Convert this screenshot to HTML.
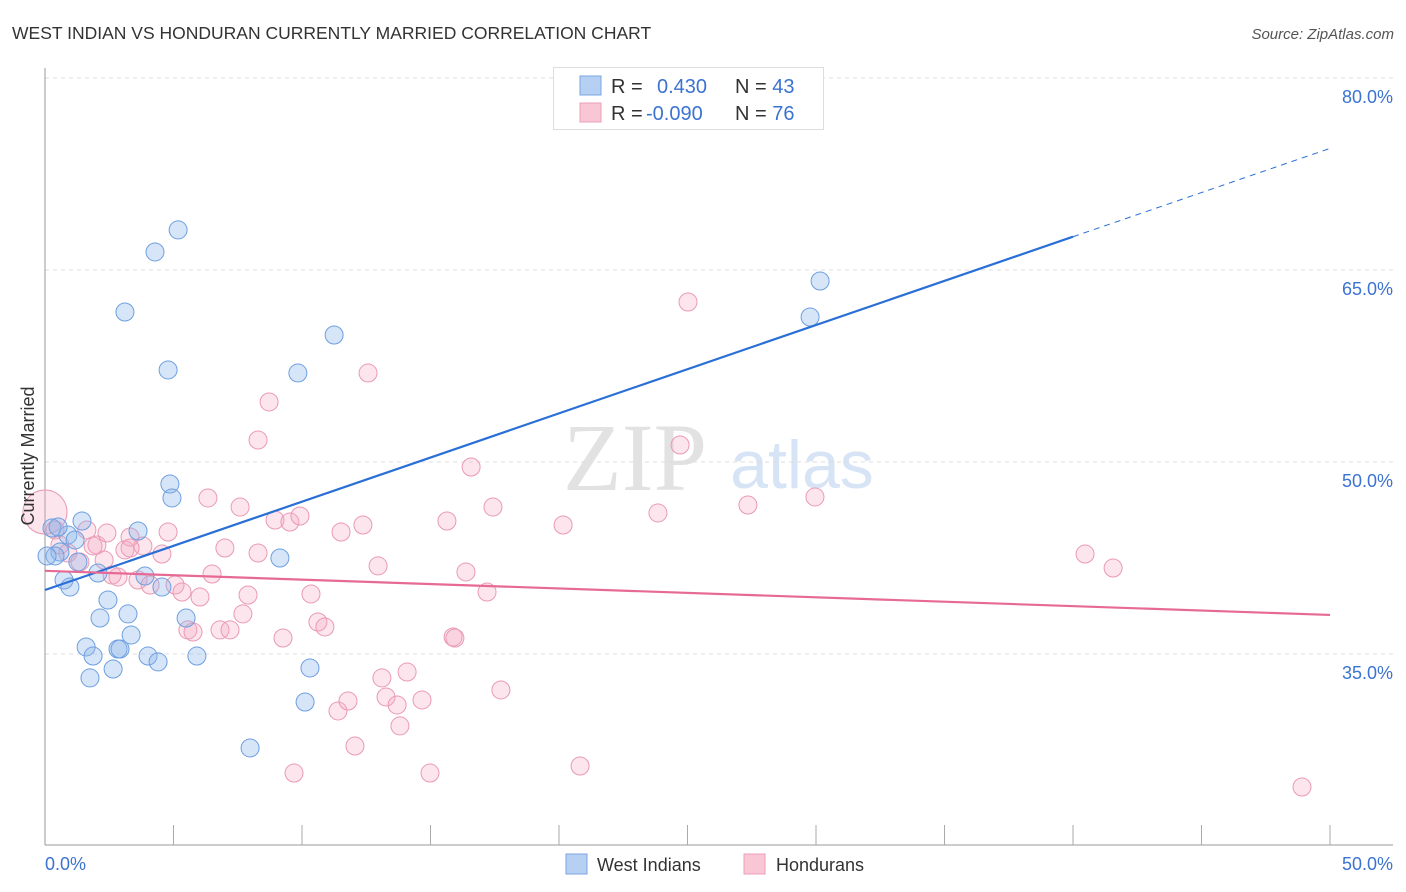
<!DOCTYPE html>
<html><head><meta charset="utf-8"><style>
body{margin:0;background:#fff;font-family:"Liberation Sans",sans-serif;}
svg{display:block}
</style></head><body>
<svg id="chart" width="1406" height="892" xmlns="http://www.w3.org/2000/svg">
<text x="12" y="39" font-size="17.5" fill="#333">WEST INDIAN VS HONDURAN CURRENTLY MARRIED CORRELATION CHART</text>
<text x="1394" y="39" font-size="15" fill="#555" font-style="italic" text-anchor="end">Source: ZipAtlas.com</text>
<text x="635" y="490" font-size="96" fill="#e2e2e2" font-family="Liberation Serif,serif" text-anchor="middle">ZIP</text>
<text x="802" y="488" font-size="68" fill="#d6e4f5" text-anchor="middle">atlas</text>
<g id="grid"></g>
<g id="axes"></g>
<g id="marks"></g>
<text transform="translate(34,456) rotate(-90)" font-size="18" fill="#333" text-anchor="middle">Currently Married</text>
<g>
<rect x="553.5" y="67.5" width="270" height="62" fill="#fff" stroke="#ddd"/>
<rect x="580" y="76" width="21" height="19" fill="#b5d0f2" stroke="#7aa6e0"/>
<rect x="580" y="103" width="21" height="19" fill="#f8c6d5" stroke="#eba0b7"/>
<text x="611" y="93" font-size="20" fill="#333">R = <tspan x="657" fill="#3b73d0">0.430</tspan><tspan x="735" fill="#333">N = </tspan><tspan fill="#3b73d0">43</tspan></text>
<text x="611" y="120" font-size="20" fill="#333">R = <tspan x="646" fill="#3b73d0">-0.090</tspan><tspan x="735" fill="#333">N = </tspan><tspan fill="#3b73d0">76</tspan></text>
</g>
<g>
<rect x="566" y="854" width="21" height="20" fill="#b5d0f2" stroke="#7aa6e0"/>
<text x="597" y="871" font-size="18" fill="#333">West Indians</text>
<rect x="744" y="854" width="21" height="20" fill="#f8c6d5" stroke="#eba0b7"/>
<text x="776" y="871" font-size="18" fill="#333">Hondurans</text>
</g>
</svg>
<script>
const yTicks=[80,65,50,35];
const xTickLabels=["0.0%","50.0%"];
const blueX=[0.27,0.58,0.39,0.74,0.97,1.44,0.89,1.17,1.28,2.06,2.14,2.45,1.60,1.87,1.75,2.65,2.84,2.92,3.23,3.35,3.62,3.89,4.01,4.40,4.55,4.86,4.94,5.49,5.91,3.11,4.28,5.18,4.79,9.14,9.84,11.25,10.31,10.12,7.98,29.77,30.16,0.51,0.08];
const blueY=[44.84,42.97,42.66,40.78,40.23,45.39,44.30,43.91,42.19,41.33,37.81,39.22,35.55,34.84,33.13,33.83,35.39,35.39,38.13,36.48,44.61,41.09,34.84,34.38,40.23,48.28,47.19,37.81,34.84,61.72,66.41,68.13,57.19,42.50,56.95,59.92,33.91,31.25,27.66,61.33,64.14,44.92,42.66];
const pinkX=[0,0.39,0.58,0.89,1.36,1.63,1.87,2.02,2.30,2.41,2.61,2.84,3.11,3.31,3.62,3.81,4.09,4.55,4.79,5.06,5.33,5.56,5.76,6.03,6.34,6.50,6.81,7.00,7.20,7.59,7.70,7.90,8.29,8.29,8.72,8.95,9.26,9.53,9.69,9.92,10.35,10.62,10.89,11.40,11.52,11.79,12.06,12.37,12.57,12.96,13.11,13.27,13.70,13.81,14.09,14.67,14.98,15.64,15.88,15.95,16.38,16.58,17.20,17.43,17.74,20.16,20.82,23.85,24.71,25.02,27.35,29.96,40.47,41.56,48.91,3.31];
const pinkY=[46.09,44.69,43.52,42.89,42.19,44.69,43.44,43.52,42.34,44.45,41.17,41.02,43.13,44.14,40.78,43.44,40.39,42.81,44.53,40.39,39.84,36.88,36.72,39.45,47.19,41.25,36.88,43.28,36.88,46.48,38.13,39.61,42.89,51.72,54.69,45.47,36.25,45.31,25.70,45.78,39.69,37.50,37.11,30.55,44.53,31.33,27.81,45.08,56.95,41.88,33.13,31.64,31.02,29.38,33.59,31.41,25.70,45.39,36.33,36.25,41.41,49.61,39.84,46.48,32.19,45.08,26.25,46.02,51.33,62.50,46.64,47.27,42.81,41.72,24.61,43.28];
const blueTrend=[40.0,74.5];
const pinkTrend=[41.5,38.05];
const X0=45,X1=1330,Y80=78,PXPER=12.8;
const sx=v=>X0+(X1-X0)*v/50;
const sy=v=>Y80+(80-v)*PXPER;
const NS="http://www.w3.org/2000/svg";
function mk(tag,attrs,parent){const e=document.createElementNS(NS,tag);for(const k in attrs)e.setAttribute(k,attrs[k]);parent.appendChild(e);return e;}
const grid=document.getElementById('grid'),axes=document.getElementById('axes'),marks=document.getElementById('marks');
yTicks.forEach(t=>{
 const l=mk('line',{x1:45,x2:1393,y1:sy(t),y2:sy(t),stroke:'#ddd','stroke-dasharray':'4,4'},grid);
 
 
 const tx=mk('text',{x:1393,y:sy(t)+25,'font-size':18,fill:'#3b73d0','text-anchor':'end'},axes);
 tx.textContent=t.toFixed(1)+'%';
 
 
});
const ya=mk('line',{x1:45,x2:45,y1:68,y2:845,stroke:'#999'},axes);


const xa=mk('line',{x1:45,x2:1393,y1:845,y2:845,stroke:'#999'},axes);


for(let i=1;i<=10;i++){
 const tk=mk('line',{x1:sx(i*5),x2:sx(i*5),y1:825,y2:845,stroke:'#aaa'},axes);
 
 
}
xTickLabels.forEach((s,i)=>{
 const tx=mk('text',{x:i?1393:45,y:870,'font-size':18,fill:'#3b73d0','text-anchor':i?'end':'start'},axes);
 tx.textContent=s;
 
 
});
pinkX.forEach((x,i)=>{
 const c=mk('circle',{cx:sx(x),cy:sy(pinkY[i]),r:i===0?22:9,fill:'rgba(244,170,195,0.3)',stroke:'#ea9ab3','stroke-width':1},marks);
 
 
});
blueX.forEach((x,i)=>{
 const c=mk('circle',{cx:sx(x),cy:sy(blueY[i]),r:9,fill:'rgba(140,180,235,0.35)',stroke:'#6d9fe0','stroke-width':1},marks);
 
 
});
const bAt=x=>blueTrend[0]+(blueTrend[1]-blueTrend[0])*x/50;
const bl=mk('line',{x1:sx(0),y1:sy(bAt(0)),x2:sx(40),y2:sy(bAt(40)),stroke:'#2a6fd6','stroke-width':2.2},marks);


const bd=mk('line',{x1:sx(40),y1:sy(bAt(40)),x2:sx(50),y2:sy(bAt(50)),stroke:'#2a6fd6','stroke-width':1,'stroke-dasharray':'6,5'},marks);


const pl=mk('line',{x1:sx(0),y1:sy(pinkTrend[0]),x2:sx(50),y2:sy(pinkTrend[1]),stroke:'#e66a95','stroke-width':2.2},marks);


</script>
</body></html>
